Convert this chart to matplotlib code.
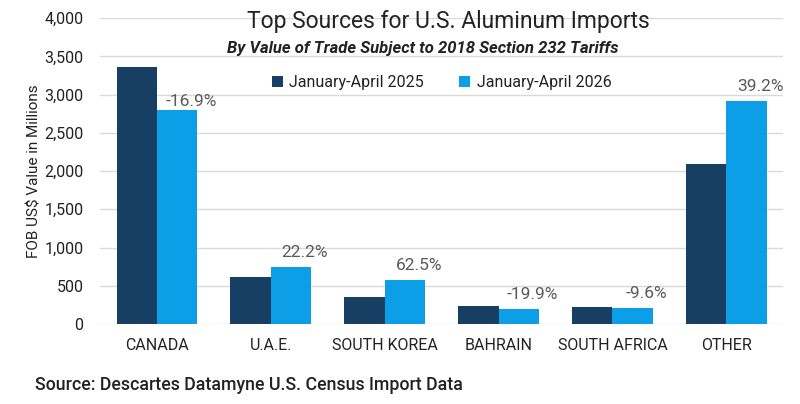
import matplotlib.pyplot as plt
import numpy as np

plt.rcParams['font.family'] = ['Roboto', 'DejaVu Sans']

countries = ['CANADA', 'U.A.E.', 'SOUTH KOREA', 'BAHRAIN', 'SOUTH AFRICA', 'OTHER']
jan_apr_2025 = [3360, 615, 352, 240, 227, 2092]
jan_apr_2026 = [2795, 752, 572, 192, 205, 2913]
changes = ['-16.9%', '22.2%', '62.5%', '-19.9%', '-9.6%', '39.2%']

dark = '#173f63'
light = '#0c9ee6'

fig = plt.figure(figsize=(8, 4.04), dpi=100)
ax = fig.add_axes([0.125, 0.198, 0.854, 0.757])

x = np.arange(len(countries))
w = 0.355
ax.bar(x - w / 2, jan_apr_2025, w, color=dark, label='January-April 2025', zorder=3)
ax.bar(x + w / 2, jan_apr_2026, w, color=light, label='January-April 2026', zorder=3)

for i, (xi, v, lab) in enumerate(zip(x, jan_apr_2026, changes)):
    dy = 1 if i == 0 else 5
    ax.annotate(lab, (xi + w / 2, v), xytext=(10, dy), textcoords='offset points',
                ha='center', va='bottom', fontsize=12.5, color='#595959')

ax.set_xlim(-0.5, len(countries) - 0.5)
ax.set_ylim(0, 4000)
ax.set_yticks(range(0, 4001, 500))
ax.set_yticklabels([f'{t:,}' for t in range(0, 4001, 500)])
ax.set_xticks(x)
ax.set_xticklabels(countries)
ax.tick_params(axis='both', length=0, labelsize=11.5, colors='#222222')
ax.tick_params(axis='x', pad=10)
ax.tick_params(axis='y', pad=12)
ax.yaxis.grid(True, color='#d9d9d9', lw=1, zorder=0)
for s in ax.spines.values():
    s.set_visible(False)

ax.set_ylabel('FOB US$ Value in Millions', fontsize=11, color='#222222', labelpad=2)

fig.text(0.561, 0.946, 'Top Sources for U.S. Aluminum Imports', ha='center', va='center',
         fontsize=16.5, color='#222222')
fig.text(0.529, 0.881, 'By Value of Trade Subject to 2018 Section 232 Tariffs', ha='center',
         va='center', fontsize=12, style='italic', weight='bold', color='#222222')

ax.legend(loc='upper center', bbox_to_anchor=(0.5, 0.86), ncol=2, frameon=False,
          fontsize=11.5, handlelength=0.7, handleheight=0.7, handletextpad=0.4,
          columnspacing=2.2, labelcolor='#222222')

fig.text(0.044, 0.046, 'Source: Descartes Datamyne U.S. Census Import Data', ha='left',
         va='center', fontsize=12.8, weight='medium', color='#222222')

fig.savefig('out.png', dpi=100)
